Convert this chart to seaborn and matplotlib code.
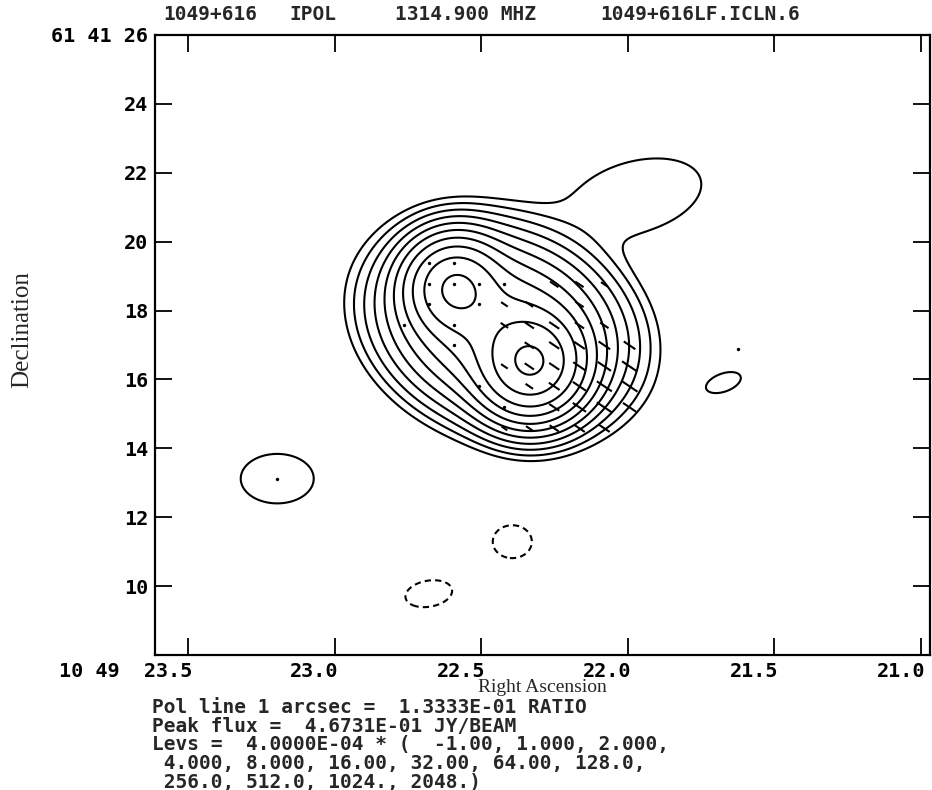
import numpy as np
import matplotlib
matplotlib.use("Agg")
import matplotlib.pyplot as plt
import matplotlib.transforms as mtransforms
from matplotlib.collections import LineCollection
import seaborn as sns

# ---------------- data ----------------
title_parts = ["1049+616", "IPOL", "1314.900 MHZ", "1049+616LF.ICLN.6"]
ra_ticks = [23.5, 23.0, 22.5, 22.0, 21.5, 21.0]
ra_ticklabels = ["10 49  23.5", "23.0", "22.5", "22.0", "21.5", "21.0"]
dec_ticks = [10, 12, 14, 16, 18, 20, 22, 24, 26]
dec_ticklabels = ["10", "12", "14", "16", "18", "20", "22", "24", "61 41 26"]
ra_limits = [23.613, 20.969]
dec_limits = [8.0, 26.0]

lev_base = 4.0e-4
lev_mult = [-1.0, 1.0, 2.0, 4.0, 8.0, 16.0, 32.0, 64.0, 128.0, 256.0, 512.0, 1024.0, 2048.0]
pol_ratio_per_arcsec = 0.13333
peak_flux = 4.6731e-01

# emission components: RA (s), Dec (arcsec), peak (Jy/beam), sigma_a, sigma_b (arcsec), angle (deg)
# order: halo, core A, core B, NW tail, west island, field source, two negative holes
comp_ra = [22.428, 22.588, 22.332, 21.973, 21.673, 23.196, 22.394, 22.679]
comp_dec = [17.54, 18.67, 16.47, 21.30, 15.91, 13.12, 11.29, 9.78]
comp_peak = [0.120, 0.196, 0.400, 0.00072, 0.00052, 0.0008, -0.0006, -0.0006]
comp_sig_a = [1.395, 0.67, 0.727, 1.80, 0.72, 0.90, 0.63, 0.76]
comp_sig_b = [1.05, 0.67, 0.727, 0.95, 0.36, 0.61, 0.53, 0.42]
comp_angle = [-20, 0, 0, 15, 20, 0, 0, 10]

# polarization vectors on a grid (fraction; 0 -> dot, nan -> none)
pol_ra = [22.763, 22.678, 22.592, 22.507, 22.421, 22.336, 22.251, 22.165, 22.080, 21.994]
pol_dec = [19.37, 18.76, 18.18, 17.57, 16.99, 16.38, 15.80, 15.19, 14.58]
nan = np.nan
pol_frac = [
    [nan, 0.0, 0.0, nan, nan, nan, nan, nan, nan, nan],
    [nan, 0.0, 0.0, 0.0, 0.0, nan, 0.039, 0.039, 0.031, nan],
    [nan, 0.0, nan, 0.0, 0.031, 0.035, nan, 0.039, nan, nan],
    [0.0, nan, 0.0, nan, 0.035, 0.043, 0.047, 0.043, 0.039, nan],
    [nan, nan, 0.0, nan, nan, 0.043, 0.047, 0.050, 0.054, 0.054],
    [nan, nan, nan, nan, 0.031, 0.043, 0.047, 0.058, 0.062, 0.070],
    [nan, nan, nan, 0.0, nan, 0.035, 0.050, 0.062, 0.070, 0.074],
    [nan, nan, nan, nan, 0.0, nan, 0.047, 0.062, 0.070, 0.062],
    [nan, nan, nan, nan, 0.027, 0.031, 0.043, 0.050, 0.050, nan],
]
pol_pa = 56.0  # degrees, N through E
extra_dot_ra = [23.196, 21.625]
extra_dot_dec = [13.12, 16.87]

# ---------------- figure ----------------
sns.set_theme(style="white")
plt.rcParams["font.family"] = ["DejaVu Sans Mono", "DejaVu Sans"]

W, H, DPI = 932, 790, 100
fig = plt.figure(figsize=(W / DPI, H / DPI), dpi=DPI)
ax = fig.add_axes([155 / W, 1 - 655 / H, (930 - 155) / W, (655 - 35) / H])

# field
disp_scale = 292.8 / 34.4  # display arcsec per second of RA
ra_g = np.linspace(ra_limits[0], ra_limits[1], 800)
dec_g = np.linspace(dec_limits[0], dec_limits[1], 560)
RA, DEC = np.meshgrid(ra_g, dec_g)
F = np.zeros_like(RA)
for r0, d0, p, sa, sb, ang in zip(comp_ra, comp_dec, comp_peak, comp_sig_a, comp_sig_b, comp_angle):
    dx = -(RA - r0) * disp_scale
    dy = DEC - d0
    t = np.deg2rad(ang)
    u = dx * np.cos(t) + dy * np.sin(t)
    v = -dx * np.sin(t) + dy * np.cos(t)
    F += p * np.exp(-0.5 * (u ** 2 / sa ** 2 + v ** 2 / sb ** 2))

levels = [lev_base * m for m in lev_mult]
cs = ax.contour(RA, DEC, F, levels=levels, colors="black", linewidths=1.5)
cs.set_linestyles([(0, (3.0, 2.0)) if lv < 0 else "-" for lv in cs.levels])

# polarization vectors
segs = []
dots_ra, dots_dec = list(extra_dot_ra), list(extra_dot_dec)
pa = np.deg2rad(pol_pa)
for j, d0 in enumerate(pol_dec):
    for i, r0 in enumerate(pol_ra):
        fr = pol_frac[j][i]
        if np.isnan(fr):
            continue
        if fr == 0:
            dots_ra.append(r0)
            dots_dec.append(d0)
            continue
        half = 0.5 * fr / pol_ratio_per_arcsec
        dra = np.sin(pa) * half / disp_scale
        ddec = np.cos(pa) * half
        segs.append([(r0 + dra, d0 + ddec), (r0 - dra, d0 - ddec)])
ax.add_collection(LineCollection(segs, colors="black", linewidths=1.5))
sns.scatterplot(x=dots_ra, y=dots_dec, ax=ax, color="black", s=6, linewidth=0, legend=False)

ax.set_xlim(ra_limits)
ax.set_ylim(dec_limits)

ax.set_xticks(ra_ticks)
ax.set_xticklabels(ra_ticklabels, fontsize=14.5, fontweight="bold")
ax.set_yticks(dec_ticks)
ax.set_yticklabels(dec_ticklabels, fontsize=14.5, fontweight="bold")
ax.tick_params(direction="in", length=12, width=1.3, top=True, right=True, bottom=True, left=True,
               labeltop=False, labelright=False, pad=5, colors="black")
off = mtransforms.ScaledTranslation(4 / DPI, 0, fig.dpi_scale_trans)
for lab in ax.get_xticklabels():
    lab.set_horizontalalignment("right")
    lab.set_transform(lab.get_transform() + off)
for s in ax.spines.values():
    s.set_linewidth(1.6)
    s.set_color("black")

ax.set_xlabel("")
ax.set_ylabel("")
fig.text(542 / W, 1 - 688 / H, "Right Ascension", family="Liberation Serif",
         fontsize=14, ha="center", va="center")
fig.text(22 / W, 1 - 330 / H, "Declination", family="Liberation Serif",
         fontsize=18, ha="center", va="center", rotation=90)

title_x = [163, 289, 395, 600]
for tx, tp in zip(title_x, title_parts):
    fig.text(tx / W, 1 - 14 / H, tp, fontsize=14, fontweight="bold", ha="left", va="center")

info_lines = [
    f"Pol line 1 arcsec =  {pol_ratio_per_arcsec:.4E} RATIO",
    f"Peak flux =  {peak_flux:.4E} JY/BEAM",
    f"Levs =  {lev_base:.4E} * (  -1.00, 1.000, 2.000,",
    " 4.000, 8.000, 16.00, 32.00, 64.00, 128.0,",
    " 256.0, 512.0, 1024., 2048.)",
]
fig.text(152 / W, 1 - 698 / H, "\n".join(info_lines), fontsize=14, fontweight="bold",
         ha="left", va="top", linespacing=0.98)

fig.savefig("out.png", dpi=DPI, facecolor="white")
